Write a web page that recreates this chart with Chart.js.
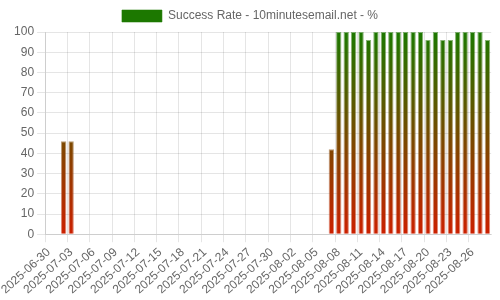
<!DOCTYPE html>
<html>
<head>
<meta charset="utf-8">
<script src="https://cdn.jsdelivr.net/npm/chart.js@4"></script>
<style>
    html, body { margin: 0; padding: 0; background: #fff; }
    #wrap { width: 500px; height: 300px; }
</style>
</head>
<body>
<div id="wrap"><canvas id="rateChart"></canvas></div>
<script>
// Días 2025-06-30 .. 2025-08-28
const dates = [
    '2025-06-30', '2025-07-01', '2025-07-02', '2025-07-03', '2025-07-04', '2025-07-05',
    '2025-07-06', '2025-07-07', '2025-07-08', '2025-07-09', '2025-07-10', '2025-07-11',
    '2025-07-12', '2025-07-13', '2025-07-14', '2025-07-15', '2025-07-16', '2025-07-17',
    '2025-07-18', '2025-07-19', '2025-07-20', '2025-07-21', '2025-07-22', '2025-07-23',
    '2025-07-24', '2025-07-25', '2025-07-26', '2025-07-27', '2025-07-28', '2025-07-29',
    '2025-07-30', '2025-07-31', '2025-08-01', '2025-08-02', '2025-08-03', '2025-08-04',
    '2025-08-05', '2025-08-06', '2025-08-07', '2025-08-08', '2025-08-09', '2025-08-10',
    '2025-08-11', '2025-08-12', '2025-08-13', '2025-08-14', '2025-08-15', '2025-08-16',
    '2025-08-17', '2025-08-18', '2025-08-19', '2025-08-20', '2025-08-21', '2025-08-22',
    '2025-08-23', '2025-08-24', '2025-08-25', '2025-08-26', '2025-08-27', '2025-08-28'
];

const successRate = [
    0, 0, 46, 46, 0, 0,
    0, 0, 0, 0, 0, 0,
    0, 0, 0, 0, 0, 0,
    0, 0, 0, 0, 0, 0,
    0, 0, 0, 0, 0, 0,
    0, 0, 0, 0, 0, 0,
    0, 0, 42, 100, 100, 100,
    100, 96, 100, 100, 100, 100,
    100, 100, 100, 96, 100, 96,
    96, 100, 100, 100, 100, 96
];

const yMin = 0;
const yMax = 100;
const yStep = 10;
const labelEvery = 3;

// gradiente rojo (abajo) -> verde (arriba) sobre el área del gráfico
function barGradient(context, alpha) {
    const chart = context.chart;
    const area = chart.chartArea;
    if (!area) return 'rgb(30, 120, 0)';
    const g = chart.ctx.createLinearGradient(0, area.bottom, 0, area.top);
    g.addColorStop(0, 'rgba(204, 32, 0, ' + alpha + ')');
    g.addColorStop(1, 'rgba(28, 120, 0, ' + alpha + ')');
    return g;
}

document.addEventListener('DOMContentLoaded', function () {
    const ctx = document.getElementById('rateChart').getContext('2d');
    new Chart(ctx, {
        type: 'bar',
        data: {
            labels: dates,
            datasets: [{
                label: 'Success Rate - 10minutesemail.net - %',
                data: successRate,
                backgroundColor: function (c) { return barGradient(c, 1); },
                borderColor: function (c) { return barGradient(c, 0.55); },
                borderWidth: 1
            }]
        },
        options: {
            responsive: true,
            maintainAspectRatio: false,
            animation: false,
            scales: {
                x: {
                    grid: {
                        color: function (c) {
                            return c.index % labelEvery === 0 ? 'rgba(0,0,0,0.1)' : 'rgba(0,0,0,0)';
                        }
                    },
                    ticks: {
                        autoSkip: false,
                        minRotation: 42,
                        maxRotation: 42,
                        callback: function (value, index) {
                            return index % labelEvery === 0 ? this.getLabelForValue(value) : '';
                        }
                    }
                },
                y: {
                    min: yMin,
                    max: yMax,
                    ticks: { stepSize: yStep }
                }
            }
        }
    });
});
</script>
</body>
</html>
